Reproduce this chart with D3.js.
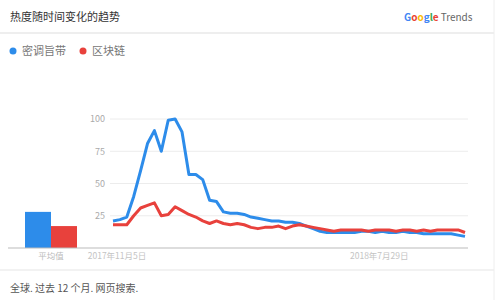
<!DOCTYPE html>
<html>
<head>
<meta charset="utf-8">
<script src="https://cdn.jsdelivr.net/npm/d3@7"></script>
<style>
  body { margin: 0; background: #fff; }
  svg text { font-family: "Noto Sans CJK SC", "Noto Sans", sans-serif; }
</style>
</head>
<body>
<div id="chart"></div>
<script>
let width = 500
let height = 300

// series names and colours
let seriesNames = ["密调旨带", "区块链"]
let seriesColors = ["#2d8cea", "#e8413c"]

// weekly interest, 0-100
let blueValues = [21, 22, 24, 40, 60, 81, 91, 75, 99, 100, 90, 57, 57, 53, 37, 36, 28, 27, 27, 26,
                  24, 23, 22, 21, 21, 20, 20, 19, 17, 15, 13, 12, 12, 12, 12, 12, 13, 13, 12, 13,
                  12, 12, 13, 12, 12, 11, 11, 11, 11, 11, 10, 9]
let redValues = [18, 18, 18, 25, 31, 33, 35, 25, 26, 32, 29, 26, 24, 21, 19, 21, 19, 18, 19, 18,
                 16, 15, 16, 16, 17, 15, 17, 18, 17, 16, 15, 14, 13, 14, 14, 14, 14, 13, 14, 14,
                 14, 13, 14, 14, 13, 14, 13, 14, 14, 14, 14, 12]
let averages = [28, 17]
let averageLabel = "平均值"

let yTicks = [25, 50, 75, 100]
let xTickIndex = [0, 38]
let xTickLabels = ["2017年11月5日", "2018年7月29日"]

let svg = d3.select("#chart")
            .append("svg")
            .attr("width", width)
            .attr("height", height)

// card frame
svg.append("line").attr("x1", 494).attr("x2", 494).attr("y1", 0).attr("y2", height)
    .attr("stroke", "#eeeeee")
svg.append("line").attr("x1", 0).attr("x2", 494).attr("y1", 33).attr("y2", 33)
    .attr("stroke", "#eeeeee").attr("stroke-width", 2)
svg.append("line").attr("x1", 0).attr("x2", 494).attr("y1", 270).attr("y2", 270)
    .attr("stroke", "#eeeeee").attr("stroke-width", 1.5)

// header
svg.append("text").attr("x", 10).attr("y", 21)
    .attr("font-size", 11).attr("fill", "#333")
    .text("热度随时间变化的趋势")

let logo = svg.append("text").attr("x", 404).attr("y", 21).attr("font-size", 10)
    .attr("font-family", "Roboto, sans-serif")
let googleColors = ["#4285f4", "#ea4335", "#fbbc05", "#4285f4", "#34a853", "#ea4335"]
"Google".split("").forEach(function(c, i) {
    logo.append("tspan").attr("fill", googleColors[i]).attr("font-weight", "bold").text(c)
})
logo.append("tspan").attr("fill", "#666").attr("dx", 2).text("Trends")

// legend
let legendX = [13, 83]
seriesNames.forEach(function(name, i) {
    svg.append("circle").attr("cx", legendX[i]).attr("cy", 51).attr("r", 3.5)
        .attr("fill", seriesColors[i])
    svg.append("text").attr("x", legendX[i] + 9).attr("y", 55)
        .attr("font-size", 11).attr("fill", "#777").text(name)
})

// scales
let yScale = d3.scaleLinear().domain([0, 100]).range([248, 119])
let xScale = d3.scaleLinear().domain([0, blueValues.length - 1]).range([113, 465])
let barScale = d3.scaleBand().domain(seriesNames).range([25, 77])

// gridlines
svg.append("g")
    .selectAll("line")
    .data(yTicks)
    .enter()
    .append("line")
    .attr("x1", 110).attr("x2", 468)
    .attr("y1", function(d) { return yScale(d) })
    .attr("y2", function(d) { return yScale(d) })
    .attr("stroke", "#ececec")

let yAxis = d3.axisLeft(yScale).tickValues(yTicks).tickSize(0).tickPadding(0)
svg.append("g")
    .attr("transform", "translate(105,0)")
    .call(yAxis)
    .call(function(g) {
        g.select(".domain").remove()
        g.selectAll("text").attr("font-size", 9).attr("fill", "#aaa")
            .attr("font-family", "Roboto, sans-serif")
    })

// average bars
svg.selectAll("rect.avg")
    .data(averages)
    .enter()
    .append("rect")
    .attr("class", "avg")
    .attr("x", function(d, i) { return barScale(seriesNames[i]) })
    .attr("width", barScale.bandwidth())
    .attr("y", function(d) { return yScale(d) })
    .attr("height", function(d) { return yScale(0) - yScale(d) })
    .attr("fill", function(d, i) { return seriesColors[i] })

// baseline
svg.append("line").attr("x1", 8).attr("x2", 468)
    .attr("y1", yScale(0)).attr("y2", yScale(0))
    .attr("stroke", "#bbb")

svg.append("text").attr("x", 51).attr("y", 259).attr("text-anchor", "middle")
    .attr("font-size", 8.5).attr("fill", "#bbb").text(averageLabel)

xTickIndex.forEach(function(d, i) {
    svg.append("text").attr("x", xScale(d) + 4).attr("y", 259).attr("text-anchor", "middle")
        .attr("font-size", 8.5).attr("fill", "#c4c4c4").text(xTickLabels[i])
})

// lines
let line = d3.line()
    .x(function(d, i) { return xScale(i) })
    .y(function(d) { return yScale(d) })

;[blueValues, redValues].forEach(function(values, i) {
    svg.append("path")
        .datum(values)
        .attr("d", line)
        .attr("fill", "none")
        .attr("stroke", seriesColors[i])
        .attr("stroke-width", 3)
        .attr("stroke-linejoin", "round")
})

// footer
svg.append("text").attr("x", 10).attr("y", 292)
    .attr("font-size", 10).attr("fill", "#555")
    .text("全球. 过去 12 个月. 网页搜索.")
</script>
</body>
</html>
